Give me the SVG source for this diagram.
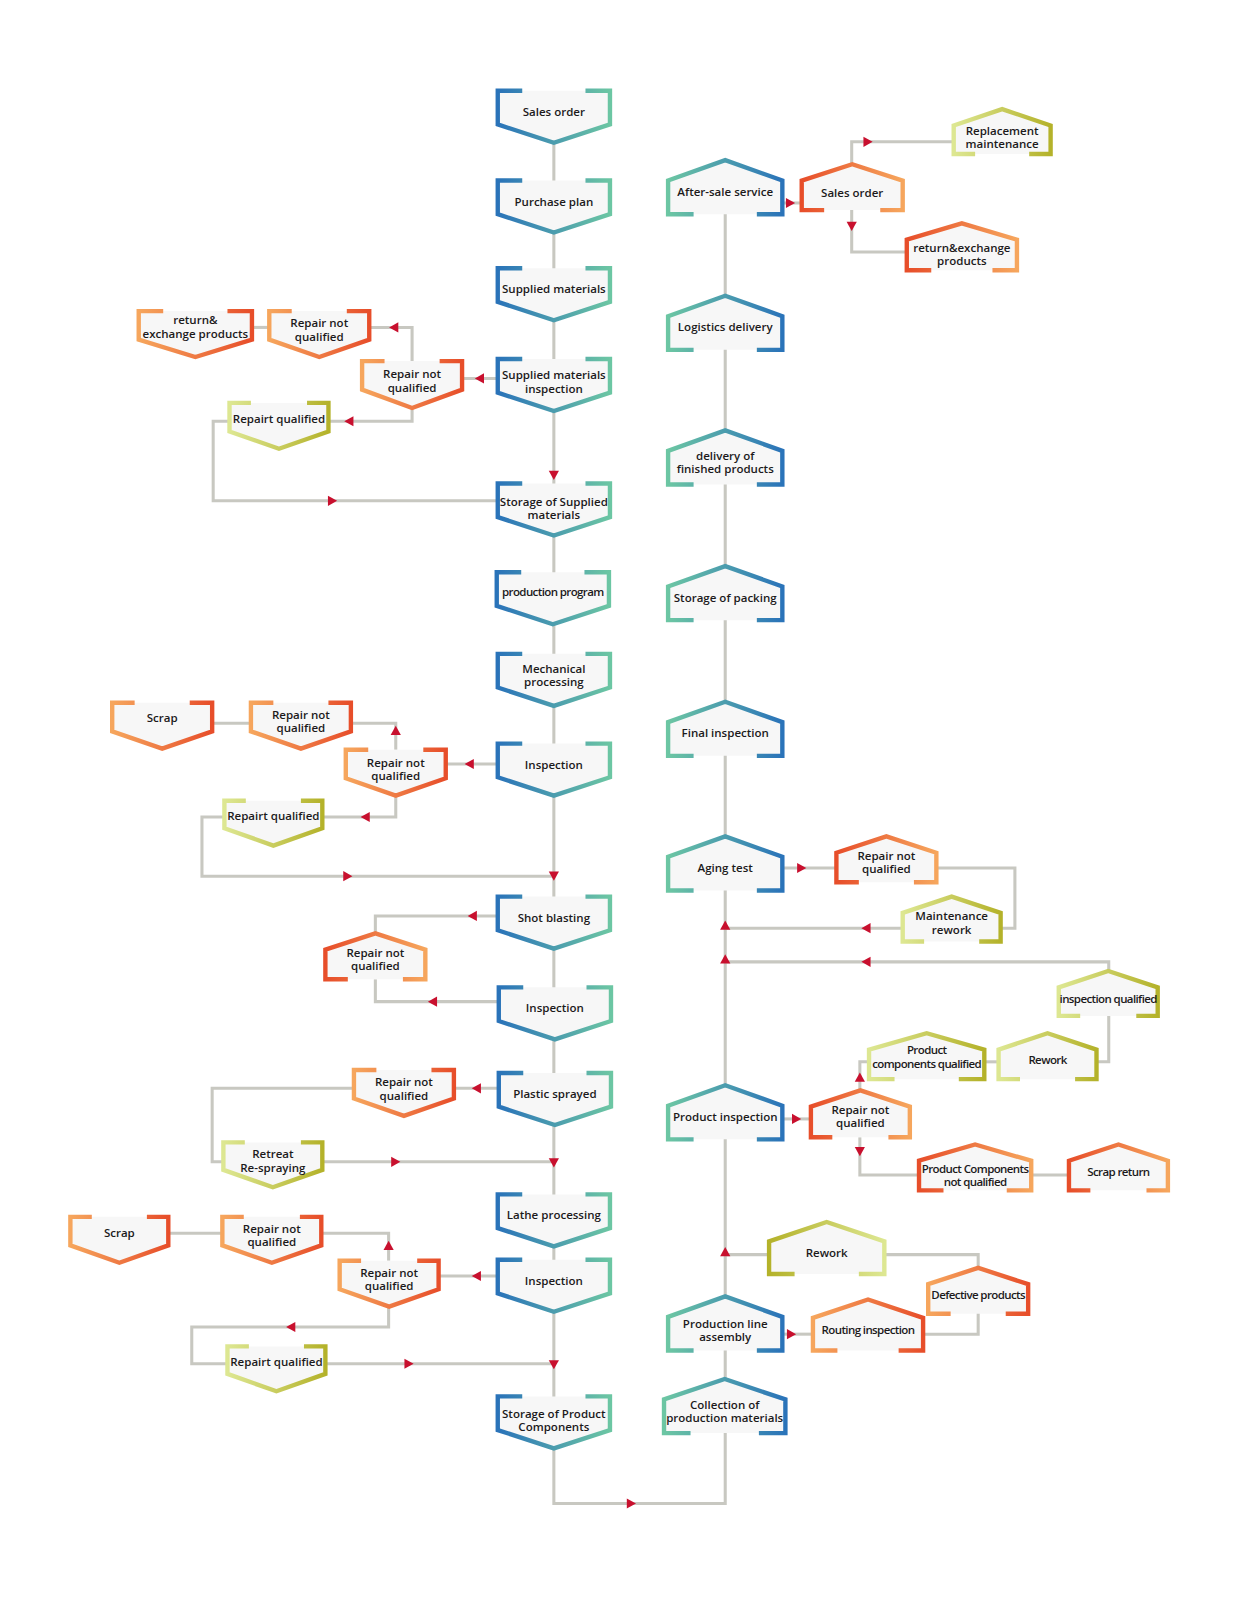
<svg xmlns="http://www.w3.org/2000/svg" width="1239" height="1600" viewBox="0 0 1239 1600">
<style>
.ln{fill:none;stroke:#c8c8c1;stroke-width:3}
.f{fill:#f7f7f7}
.s{fill:none;stroke-width:4.3;stroke-linejoin:miter}
text{font-family:"Open Sans","Noto Sans",sans-serif;font-size:11.3px;font-weight:600;fill:#1c1a1b;text-anchor:middle}
.c{letter-spacing:-0.6px}
.ar{fill:#c8102e}
</style>
<defs>
<linearGradient id="gB" x1="0" y1="0" x2="1" y2="0"><stop offset="0" stop-color="#2a73b9"/><stop offset="1" stop-color="#6cc6a3"/></linearGradient>
<linearGradient id="gBr" x1="0" y1="0" x2="1" y2="0"><stop offset="0" stop-color="#6cc6a3"/><stop offset="1" stop-color="#2a73b9"/></linearGradient>
<linearGradient id="gOa" x1="0" y1="0" x2="1" y2="0"><stop offset="0" stop-color="#f6a65d"/><stop offset="1" stop-color="#e74e2a"/></linearGradient>
<linearGradient id="gOb" x1="0" y1="0" x2="1" y2="0"><stop offset="0" stop-color="#e74e2a"/><stop offset="1" stop-color="#f6a65d"/></linearGradient>
<linearGradient id="gYa" x1="0" y1="0" x2="1" y2="0"><stop offset="0" stop-color="#dde792"/><stop offset="1" stop-color="#b4b22a"/></linearGradient>
<linearGradient id="gYb" x1="0" y1="0" x2="1" y2="0"><stop offset="0" stop-color="#b4b22a"/><stop offset="1" stop-color="#dde792"/></linearGradient>
<path id="dF" d="M0,0H110V33L55,51L0,33Z"/>
<path id="dS" d="M24,0H0V33L55,51L110,33V0H86"/>
<path id="uF" d="M0,53V20L56,0L112,20V53Z"/>
<path id="uS" d="M25,53H0V20L56,0L112,20V53H87"/>
<path id="ar" class="ar" d="M4.5,0L-4.5,-5L-4.5,5Z"/>
</defs>
<rect width="1239" height="1600" fill="#ffffff"/>
<g transform="scale(1.02)">
<g id="connectors">
<path class="ln" d="M543,115V1474H711V185"/>
<path class="ln" d="M766,199H786"/>
<path class="ln" d="M835,162V139H935"/>
<path class="ln" d="M835,206V247H889"/>
<path class="ln" d="M488,371H453"/>
<path class="ln" d="M404,354V321H362"/>
<path class="ln" d="M264,321H247"/>
<path class="ln" d="M404,400V413H322"/>
<path class="ln" d="M225,413H209V491H488"/>
<path class="ln" d="M488,749H437"/>
<path class="ln" d="M388,735V709H344"/>
<path class="ln" d="M246,709H208"/>
<path class="ln" d="M388,780V801H316"/>
<path class="ln" d="M220,801H198V859H543"/>
<path class="ln" d="M488,898H368V915"/>
<path class="ln" d="M368,960V982H489"/>
<path class="ln" d="M489,1067H445"/>
<path class="ln" d="M347,1067H208V1139H219"/>
<path class="ln" d="M316,1139H543"/>
<path class="ln" d="M488,1251H430"/>
<path class="ln" d="M381,1236V1209H315"/>
<path class="ln" d="M218,1209H165"/>
<path class="ln" d="M381,1281V1301H188V1337H223"/>
<path class="ln" d="M319,1337H543"/>
<path class="ln" d="M767,851H820"/>
<path class="ln" d="M918,851H995V910H981"/>
<path class="ln" d="M885,910H711"/>
<path class="ln" d="M767,1097H795"/>
<path class="ln" d="M843,1069V1041H852"/>
<path class="ln" d="M965,1041H979"/>
<path class="ln" d="M1075,1041H1087V943H711"/>
<path class="ln" d="M843,1115V1152H901"/>
<path class="ln" d="M1011,1152H1048"/>
<path class="ln" d="M767,1308H797"/>
<path class="ln" d="M905,1308H959V1230H867"/>
<path class="ln" d="M754,1230H711"/>
<use href="#ar" transform="translate(775,199)"/>
<use href="#ar" transform="translate(851,139)"/>
<use href="#ar" transform="translate(326,491)"/>
<use href="#ar" transform="translate(341,859)"/>
<use href="#ar" transform="translate(388,1139)"/>
<use href="#ar" transform="translate(401,1337)"/>
<use href="#ar" transform="translate(619,1474)"/>
<use href="#ar" transform="translate(786,851)"/>
<use href="#ar" transform="translate(781,1097)"/>
<use href="#ar" transform="translate(776,1308)"/>
<use href="#ar" transform="translate(470,371) rotate(180)"/>
<use href="#ar" transform="translate(386,321) rotate(180)"/>
<use href="#ar" transform="translate(342,413) rotate(180)"/>
<use href="#ar" transform="translate(460,749) rotate(180)"/>
<use href="#ar" transform="translate(358,801) rotate(180)"/>
<use href="#ar" transform="translate(463,898) rotate(180)"/>
<use href="#ar" transform="translate(424,982) rotate(180)"/>
<use href="#ar" transform="translate(467,1067) rotate(180)"/>
<use href="#ar" transform="translate(467,1251) rotate(180)"/>
<use href="#ar" transform="translate(285,1301) rotate(180)"/>
<use href="#ar" transform="translate(849,910) rotate(180)"/>
<use href="#ar" transform="translate(849,943) rotate(180)"/>
<use href="#ar" transform="translate(835,222) rotate(90)"/>
<use href="#ar" transform="translate(543,466) rotate(90)"/>
<use href="#ar" transform="translate(543,859) rotate(90)"/>
<use href="#ar" transform="translate(543,1140) rotate(90)"/>
<use href="#ar" transform="translate(543,1338) rotate(90)"/>
<use href="#ar" transform="translate(843,1129) rotate(90)"/>
<use href="#ar" transform="translate(388,716) rotate(-90)"/>
<use href="#ar" transform="translate(381,1221) rotate(-90)"/>
<use href="#ar" transform="translate(711,907) rotate(-90)"/>
<use href="#ar" transform="translate(711,940) rotate(-90)"/>
<use href="#ar" transform="translate(843,1056) rotate(-90)"/>
<use href="#ar" transform="translate(711,1227) rotate(-90)"/>
</g>
<g id="nodes">
<g id="L1" transform="translate(488,89)"><use href="#dF" class="f"/><use href="#dS" class="s" stroke="url(#gB)"/><text x="55" y="24.5">Sales order</text></g>
<g id="L2" transform="translate(488,177)"><use href="#dF" class="f"/><use href="#dS" class="s" stroke="url(#gB)"/><text x="55" y="24.5">Purchase plan</text></g>
<g id="L3" transform="translate(488,263)"><use href="#dF" class="f"/><use href="#dS" class="s" stroke="url(#gB)"/><text x="55" y="24.5">Supplied materials</text></g>
<g id="L4" transform="translate(488,352)"><use href="#dF" class="f"/><use href="#dS" class="s" stroke="url(#gB)"/><text x="55" y="20">Supplied materials</text><text x="55" y="33">inspection</text></g>
<g id="L5" transform="translate(488,474)"><use href="#dF" class="f"/><use href="#dS" class="s" stroke="url(#gB)"/><text x="55" y="22">Storage of Supplied</text><text x="55" y="35">materials</text></g>
<g id="L6" transform="translate(487,561)"><use href="#dF" class="f"/><use href="#dS" class="s" stroke="url(#gB)"/><text x="55" y="23.5" class="c">production program</text></g>
<g id="L7" transform="translate(488,641)"><use href="#dF" class="f"/><use href="#dS" class="s" stroke="url(#gB)"/><text x="55" y="18.5">Mechanical</text><text x="55" y="31.5">processing</text></g>
<g id="L8" transform="translate(488,729)"><use href="#dF" class="f"/><use href="#dS" class="s" stroke="url(#gB)"/><text x="55" y="24.5">Inspection</text></g>
<g id="L9" transform="translate(488,879)"><use href="#dF" class="f"/><use href="#dS" class="s" stroke="url(#gB)"/><text x="55" y="24.5">Shot blasting</text></g>
<g id="L10" transform="translate(489,968)"><use href="#dF" class="f"/><use href="#dS" class="s" stroke="url(#gB)"/><text x="55" y="24.5">Inspection</text></g>
<g id="L11" transform="translate(489,1052)"><use href="#dF" class="f"/><use href="#dS" class="s" stroke="url(#gB)"/><text x="55" y="24.5">Plastic sprayed</text></g>
<g id="L12" transform="translate(488,1171)"><use href="#dF" class="f"/><use href="#dS" class="s" stroke="url(#gB)"/><text x="55" y="24.5">Lathe processing</text></g>
<g id="L13" transform="translate(488,1235)"><use href="#dF" class="f"/><use href="#dS" class="s" stroke="url(#gB)"/><text x="55" y="24.5">Inspection</text></g>
<g id="L14" transform="translate(488,1369)"><use href="#dF" class="f"/><use href="#dS" class="s" stroke="url(#gB)"/><text x="55" y="21">Storage of Product</text><text x="55" y="34">Components</text></g>

<g id="R1" transform="translate(655,157)"><use href="#uF" class="f"/><use href="#uS" class="s" stroke="url(#gBr)"/><text x="56" y="35">After-sale service</text></g>
<g id="R2" transform="translate(655,290)"><use href="#uF" class="f"/><use href="#uS" class="s" stroke="url(#gBr)"/><text x="56" y="35">Logistics delivery</text></g>
<g id="R3" transform="translate(655,422)"><use href="#uF" class="f"/><use href="#uS" class="s" stroke="url(#gBr)"/><text x="56" y="29">delivery of</text><text x="56" y="42">finished products</text></g>
<g id="R4" transform="translate(655,555)"><use href="#uF" class="f"/><use href="#uS" class="s" stroke="url(#gBr)"/><text x="56" y="35">Storage of packing</text></g>
<g id="R5" transform="translate(655,688)"><use href="#uF" class="f"/><use href="#uS" class="s" stroke="url(#gBr)"/><text x="56" y="35">Final inspection</text></g>
<g id="R6" transform="translate(655,820)"><use href="#uF" class="f"/><use href="#uS" class="s" stroke="url(#gBr)"/><text x="56" y="35">Aging test</text></g>
<g id="R7" transform="translate(655,1064)"><use href="#uF" class="f"/><use href="#uS" class="s" stroke="url(#gBr)"/><text x="56" y="35">Product inspection</text></g>
<g id="R8" transform="translate(655,1271)"><use href="#uF" class="f"/><use href="#uS" class="s" stroke="url(#gBr)"/><text x="56" y="31">Production line</text><text x="56" y="44">assembly</text></g>
<g id="R9" transform="translate(651,1352)"><path class="f" d="M0,53V20L59.5,0L119,20V53Z"/><path class="s" stroke="url(#gBr)" d="M26,53H0V20L59.5,0L119,20V53H93"/><text x="59.5" y="29">Collection of</text><text x="59.5" y="42">production materials</text></g>

<g id="S1" transform="translate(786,161)"><path class="f" d="M0,45V16L49.5,0L99,16V45Z"/><path class="s" stroke="url(#gOb)" d="M22,45H0V16L49.5,0L99,16V45H77"/><text x="49.5" y="32">Sales order</text></g>
<g id="S2" transform="translate(935,107)"><path class="f" d="M0,44V16L47.5,0L95,16V44Z"/><path class="s" stroke="url(#gYa)" d="M21,44H0V16L47.5,0L95,16V44H74"/><text x="47.5" y="25">Replacement</text><text x="47.5" y="38">maintenance</text></g>
<g id="S3" transform="translate(889,219)"><path class="f" d="M0,46V16L54,0L108,16V46Z"/><path class="s" stroke="url(#gOb)" d="M24,46H0V16L54,0L108,16V46H84"/><text x="54" y="28">return&amp;exchange</text><text x="54" y="41">products</text></g>

<g id="S4" transform="translate(355,354)"><path class="f" d="M0,0H98V28L49,46L0,28Z"/><path class="s" stroke="url(#gOa)" d="M22,0H0V28L49,46L98,28V0H76"/><text x="49" y="17">Repair not</text><text x="49" y="30">qualified</text></g>
<g id="S5" transform="translate(264,305)"><path class="f" d="M0,0H98V28L49,45L0,28Z"/><path class="s" stroke="url(#gOa)" d="M22,0H0V28L49,45L98,28V0H76"/><text x="49" y="16">Repair not</text><text x="49" y="29">qualified</text></g>
<g id="S6" transform="translate(136,305)"><path class="f" d="M0,0H111V28L55.5,45L0,28Z"/><path class="s" stroke="url(#gOa)" d="M24,0H0V28L55.5,45L111,28V0H87"/><text x="55.5" y="13">return&amp;</text><text x="55.5" y="26">exchange products</text></g>
<g id="S7" transform="translate(225,395)"><path class="f" d="M0,0H97V28L48.5,45L0,28Z"/><path class="s" stroke="url(#gYa)" d="M21,0H0V28L48.5,45L97,28V0H76"/><text x="48.5" y="20">Repairt qualified</text></g>

<g id="S8" transform="translate(110,689)"><path class="f" d="M0,0H98V28L49,45L0,28Z"/><path class="s" stroke="url(#gOa)" d="M22,0H0V28L49,45L98,28V0H76"/><text x="49" y="19">Scrap</text></g>
<g id="S9" transform="translate(246,689)"><path class="f" d="M0,0H98V28L49,45L0,28Z"/><path class="s" stroke="url(#gOa)" d="M22,0H0V28L49,45L98,28V0H76"/><text x="49" y="16">Repair not</text><text x="49" y="29">qualified</text></g>
<g id="S10" transform="translate(339,735)"><path class="f" d="M0,0H98V28L49,45L0,28Z"/><path class="s" stroke="url(#gOa)" d="M22,0H0V28L49,45L98,28V0H76"/><text x="49" y="17">Repair not</text><text x="49" y="30">qualified</text></g>
<g id="S11" transform="translate(220,785)"><path class="f" d="M0,0H96V27L48,44L0,27Z"/><path class="s" stroke="url(#gYa)" d="M21,0H0V27L48,44L96,27V0H75"/><text x="48" y="19">Repairt qualified</text></g>

<g id="S12" transform="translate(319,915)"><path class="f" d="M0,45V16L49,0L98,16V45Z"/><path class="s" stroke="url(#gOb)" d="M22,45H0V16L49,0L98,16V45H76"/><text x="49" y="23">Repair not</text><text x="49" y="36">qualified</text></g>
<g id="S13" transform="translate(347,1049)"><path class="f" d="M0,0H98V28L49,45L0,28Z"/><path class="s" stroke="url(#gOa)" d="M22,0H0V28L49,45L98,28V0H76"/><text x="49" y="16">Repair not</text><text x="49" y="29">qualified</text></g>
<g id="S14" transform="translate(219,1120)"><path class="f" d="M0,0H97V27L48.5,44L0,27Z"/><path class="s" stroke="url(#gYa)" d="M21,0H0V27L48.5,44L97,27V0H76"/><text x="48.5" y="15">Retreat</text><text x="48.5" y="29">Re-spraying</text></g>

<g id="S15" transform="translate(69,1193)"><path class="f" d="M0,0H96V28L48,45L0,28Z"/><path class="s" stroke="url(#gOa)" d="M21,0H0V28L48,45L96,28V0H75"/><text x="48" y="20">Scrap</text></g>
<g id="S16" transform="translate(218,1193)"><path class="f" d="M0,0H97V28L48.5,45L0,28Z"/><path class="s" stroke="url(#gOa)" d="M21,0H0V28L48.5,45L97,28V0H76"/><text x="48.5" y="16">Repair not</text><text x="48.5" y="29">qualified</text></g>
<g id="S17" transform="translate(333,1236)"><path class="f" d="M0,0H97V28L48.5,45L0,28Z"/><path class="s" stroke="url(#gOa)" d="M21,0H0V28L48.5,45L97,28V0H76"/><text x="48.5" y="16">Repair not</text><text x="48.5" y="29">qualified</text></g>
<g id="S18" transform="translate(223,1320)"><path class="f" d="M0,0H96V27L48,44L0,27Z"/><path class="s" stroke="url(#gYa)" d="M21,0H0V27L48,44L96,27V0H75"/><text x="48" y="19">Repairt qualified</text></g>

<g id="S19" transform="translate(820,820)"><path class="f" d="M0,45V16L49,0L98,16V45Z"/><path class="s" stroke="url(#gOb)" d="M22,45H0V16L49,0L98,16V45H76"/><text x="49" y="23">Repair not</text><text x="49" y="36">qualified</text></g>
<g id="S20" transform="translate(885,879)"><path class="f" d="M0,44V16L48,0L96,16V44Z"/><path class="s" stroke="url(#gYa)" d="M21,44H0V16L48,0L96,16V44H75"/><text x="48" y="23">Maintenance</text><text x="48" y="37">rework</text></g>

<g id="S21" transform="translate(1038,952)"><path class="f" d="M0,44V16L48.5,0L97,16V44Z"/><path class="s" stroke="url(#gYa)" d="M21,44H0V16L48.5,0L97,16V44H76"/><text x="48.5" y="31" class="c">inspection qualified</text></g>
<g id="S22" transform="translate(852,1013)"><path class="f" d="M0,45V16L56.5,0L113,16V45Z"/><path class="s" stroke="url(#gYa)" d="M25,45H0V16L56.5,0L113,16V45H88"/><text x="56.5" y="20" class="c">Product</text><text x="56.5" y="34" class="c">components qualified</text></g>
<g id="S23" transform="translate(979,1013)"><path class="f" d="M0,45V16L48,0L96,16V45Z"/><path class="s" stroke="url(#gYa)" d="M21,45H0V16L48,0L96,16V45H75"/><text x="48" y="30" class="c">Rework</text></g>
<g id="S24" transform="translate(795,1069)"><path class="f" d="M0,46V16L48.5,0L97,16V46Z"/><path class="s" stroke="url(#gOb)" d="M21,46H0V16L48.5,0L97,16V46H76"/><text x="48.5" y="23">Repair not</text><text x="48.5" y="36">qualified</text></g>
<g id="S25" transform="translate(901,1122)"><path class="f" d="M0,45V16L55,0L110,16V45Z"/><path class="s" stroke="url(#gOb)" d="M24,45H0V16L55,0L110,16V45H86"/><text x="55" y="28" class="c">Product Components</text><text x="55" y="41" class="c">not qualified</text></g>
<g id="S26" transform="translate(1048,1122)"><path class="f" d="M0,45V16L48.5,0L97,16V45Z"/><path class="s" stroke="url(#gOb)" d="M21,45H0V16L48.5,0L97,16V45H76"/><text x="48.5" y="31" class="c">Scrap return</text></g>

<g id="S27" transform="translate(754,1198)"><path class="f" d="M0,51V19L56.5,0L113,19V51Z"/><path class="s" stroke="url(#gYb)" d="M25,51H0V19L56.5,0L113,19V51H88"/><text x="56.5" y="34">Rework</text></g>
<g id="S28" transform="translate(910,1243)"><path class="f" d="M0,45V16L49,0L98,16V45Z"/><path class="s" stroke="url(#gOa)" d="M22,45H0V16L49,0L98,16V45H76"/><text x="49" y="31" class="c">Defective products</text></g>
<g id="S29" transform="translate(797,1274)"><path class="f" d="M0,50V18L54,0L108,18V50Z"/><path class="s" stroke="url(#gOa)" d="M24,50H0V18L54,0L108,18V50H84"/><text x="54" y="34" class="c">Routing inspection</text></g>
</g>
</g>
</svg>
